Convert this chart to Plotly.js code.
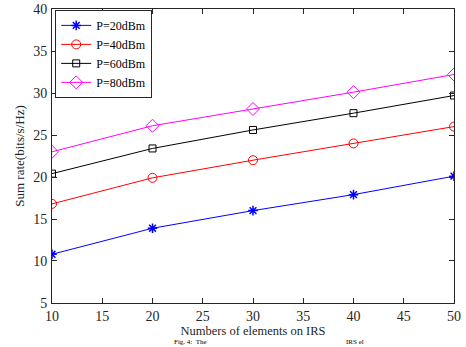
<!DOCTYPE html>
<html>
<head>
<meta charset="utf-8">
<script src="https://cdn.plot.ly/plotly-3.0.1.min.js"></script>
<style>html,body{margin:0;padding:0;background:#fff;}#chart{width:466px;height:347px;}</style>
</head>
<body>
<div id="chart"></div>
<script>
const elements = [10, 20, 30, 40, 50];
const p20 = [10.8, 13.9, 16.0, 17.9, 20.1];
const p40 = [16.8, 19.9, 22.0, 24.0, 26.0];
const p60 = [20.4, 23.4, 25.6, 27.6, 29.7];
const p80 = [23.0, 26.1, 28.1, 30.1, 32.2];
const names = ['P=20dBm', 'P=40dBm', 'P=60dBm', 'P=80dBm'];
const xTicks = [10, 15, 20, 25, 30, 35, 40, 45, 50];
const yTicks = [5, 10, 15, 20, 25, 30, 35, 40];
const captionParts = ['Fig. 4:  The', 'IRS el'];

const font = 'Liberation Serif, Times New Roman, serif';
const axisColor = '#262626';

const series = [p20, p40, p60, p80];
const colors = ['#0000ff', '#ff0000', '#000000', '#ff00ff'];
const symbols = ['asterisk-open', 'circle-open', 'square-open', 'diamond-open'];
const sizes = [8, 9, 7, 10];

const traces = series.map((ys, i) => ({
  x: elements, y: ys, name: names[i], type: 'scatter', mode: 'lines+markers',
  line: {color: colors[i], width: 1},
  marker: {symbol: symbols[i], size: sizes[i], color: colors[i], line: {color: colors[i], width: i === 0 ? 1.5 : 1}}
}));

const axBase = {
  showgrid: false, zeroline: false, showline: true, mirror: 'ticks',
  linecolor: axisColor, linewidth: 1, ticks: 'inside', ticklen: 5, tickcolor: axisColor,
  ticklabeloverflow: 'allow',
  tickfont: {family: font, size: 14, color: axisColor}
};

const layout = {
  width: 466, height: 347,
  margin: {l: 52, r: 12, t: 9, b: 44},
  paper_bgcolor: '#ffffff', plot_bgcolor: '#ffffff',
  showlegend: true,
  legend: {
    x: 0.008, y: 0.997, xanchor: 'left', yanchor: 'top',
    bgcolor: '#ffffff', bordercolor: axisColor, borderwidth: 1,
    font: {family: font, size: 12, color: '#000'}, tracegroupgap: 0
  },
  xaxis: Object.assign({}, axBase, {
    range: [9.999, 50.001], tickvals: xTicks, ticktext: xTicks.map(String),
    title: {text: 'Numbers of elements on IRS', font: {family: font, size: 12.5, color: axisColor}, standoff: 0}
  }),
  yaxis: Object.assign({}, axBase, {
    range: [4.999, 40.001], tickvals: yTicks, ticktext: yTicks.map(String),
    ticklabelstandoff: 1,
    title: {text: 'Sum rate(bits/s/Hz)', font: {family: font, size: 13, color: axisColor}, standoff: 5}
  }),
  annotations: [
    {text: captionParts[0], xref: 'paper', yref: 'paper', x: 0.3, y: -0.149, xanchor: 'left', yanchor: 'bottom', showarrow: false, borderpad: 0, font: {family: font, size: 7, color: '#000'}},
    {text: captionParts[1], xref: 'paper', yref: 'paper', x: 0.73, y: -0.149, xanchor: 'left', yanchor: 'bottom', showarrow: false, borderpad: 0, font: {family: font, size: 7, color: '#000'}}
  ]
};

Plotly.newPlot('chart', traces, layout, {displayModeBar: false, staticPlot: true});
</script>
</body>
</html>
